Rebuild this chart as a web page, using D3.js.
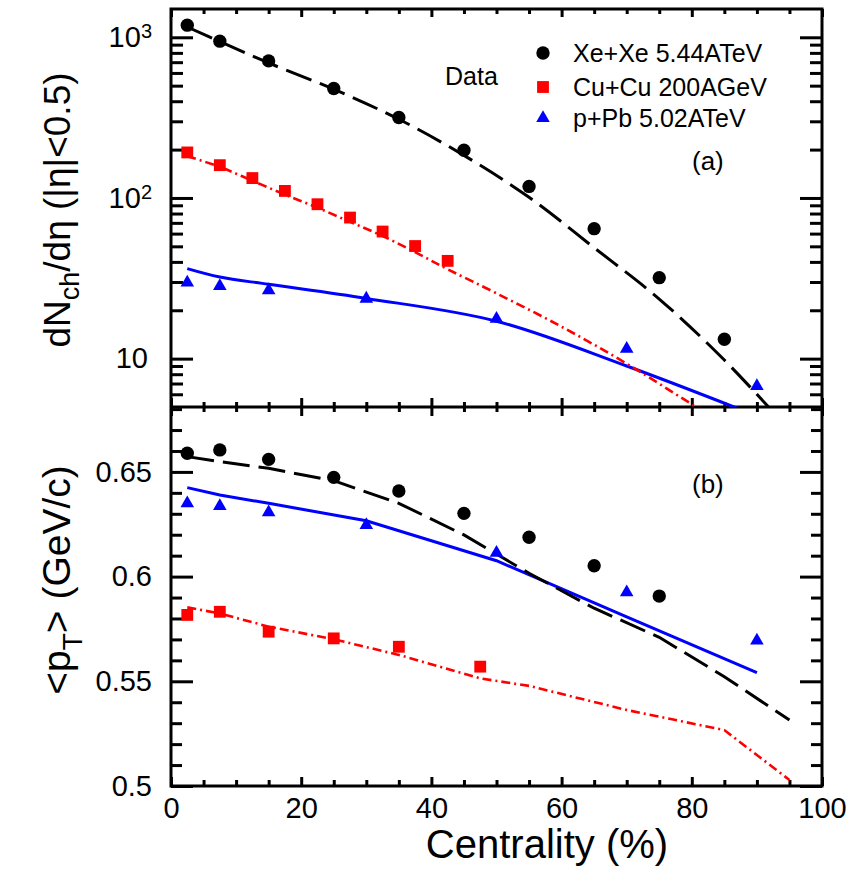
<!DOCTYPE html>
<html>
<head>
    <title>Multiplicity and mean pT vs centrality</title>
    <script src="https://d3js.org/d3.v7.min.js"></script>
    <style>
        body { margin: 0; background: white; }
        svg { display: block; font-family: "Liberation Sans", Arial, sans-serif; }
    </style>
</head>
<body>
    <svg width="859" height="877"></svg>

    <script>
        // ---- data ----
        // panel (a): dNch/deta
        const xeCent = [2.5, 7.5, 15, 25, 35, 45, 55, 65, 75, 85];
        const xeMult = [1190, 946, 713, 480, 317, 198, 118, 64.4, 31.9, 13.2];
        const cuCent = [2.5, 7.5, 12.5, 17.5, 22.5, 27.5, 32.5, 37.5, 42.5];
        const cuMult = [192, 160, 133, 110.6, 91.4, 75.5, 61.8, 50.2, 40.6];
        const pbCent = [2.5, 7.5, 15, 30, 50, 70, 90];
        const pbMult = [29.7, 28.3, 26.6, 23.6, 17.7, 11.5, 6.75];

        // model curves, panel (a)
        const xeModelCent = [2.5, 7.5, 15, 25, 35, 45, 55, 65, 75, 85, 95];
        const xeModelMult = [1159, 940, 692, 475, 309, 184, 101, 49, 23.5, 9.8, 3.6];
        const cuModelCent = [2.5, 7.5, 12.5, 17.5, 22.5, 27.5, 32.5, 37.5, 42.5, 50, 60, 70, 80, 90];
        const cuModelMult = [182, 156, 128, 105, 87, 71, 58, 46, 36, 25.5, 15.8, 9.3, 5.2, 2.9];
        const pbModelCent = [2.5, 7.5, 15, 30, 50, 70, 90];
        const pbModelMult = [36.3, 32.2, 29, 23.7, 17.1, 9, 4.4];

        // panel (b): <pT>
        const xePtCent = [2.5, 7.5, 15, 25, 35, 45, 55, 65, 75];
        const xeMeanPt = [0.6589, 0.6605, 0.656, 0.6474, 0.6409, 0.6302, 0.6188, 0.6052, 0.5907];
        const cuPtCent = [2.5, 7.5, 15, 25, 35, 47.5];
        const cuMeanPt = [0.5817, 0.5832, 0.5737, 0.5705, 0.5665, 0.557];
        const pbMeanPt = [0.635, 0.6337, 0.6307, 0.6246, 0.6114, 0.5925, 0.5694];

        // model curves, panel (b)
        const xeModelPt = [0.6573, 0.6549, 0.6517, 0.6458, 0.635, 0.6199, 0.6016, 0.5849, 0.571, 0.5522, 0.5315];
        const cuModelPtCent = [2.5, 7.5, 15, 25, 35, 47.5, 55, 70, 85, 95];
        const cuModelPt = [0.5853, 0.5824, 0.5761, 0.5701, 0.5626, 0.5514, 0.5478, 0.5363, 0.5267, 0.5029];
        const pbModelPt = [0.6425, 0.639, 0.635, 0.6267, 0.6076, 0.5808, 0.5541];

        // tick values
        const xMajor = [0, 20, 40, 60, 80, 100];
        const xMinor = d3.range(5, 100, 5).filter(v => v % 20 !== 0);
        const multMajor = [10, 100, 1000];
        const multMinor = [6, 7, 8, 9, 20, 30, 40, 50, 60, 70, 80, 90, 200, 300, 400, 500, 600, 700, 800, 900];
        const ptMajor = [0.5, 0.55, 0.6, 0.65];
        const ptMinor = [0.51, 0.52, 0.53, 0.54, 0.56, 0.57, 0.58, 0.59, 0.61, 0.62, 0.63, 0.64, 0.66, 0.67, 0.68];

        const legendLabels = ["Xe+Xe 5.44ATeV", "Cu+Cu 200AGeV", "p+Pb 5.02ATeV"];

        // ---- layout ----
        const svg = d3.select("svg");
        const fx0 = 171, fx1 = 822, fy0 = 9, fyMid = 407, fy1 = 786;

        const x = d3.scaleLinear().domain([0, 100]).range([fx0, fx1]);
        const yA = d3.scaleLog().domain([5, 1500]).range([fyMid, fy0]);
        const yB = d3.scaleLinear().domain([0.5, 0.681]).range([fy1, fyMid]);

        const zip = (xs, ys) => xs.map((c, i) => ({ c: c, v: ys[i] }));

        // clip paths for each panel
        const defs = svg.append("defs");
        defs.append("clipPath").attr("id", "clipA").append("rect")
            .attr("x", fx0).attr("y", fy0).attr("width", fx1 - fx0).attr("height", fyMid - fy0);
        defs.append("clipPath").attr("id", "clipB").append("rect")
            .attr("x", fx0).attr("y", fyMid).attr("width", fx1 - fx0).attr("height", fy1 - fyMid);

        const tickStyle = g => {
            g.select(".domain").remove();
            g.selectAll(".tick line").attr("stroke", "black").attr("stroke-width", 3);
            g.selectAll(".tick text").attr("font-size", 29).attr("fill", "black")
                .attr("font-family", "Liberation Sans, Arial, sans-serif");
        };

        function addAxis(axis, tx, ty) {
            return svg.append("g").attr("transform", `translate(${tx},${ty})`).call(axis).call(tickStyle);
        }

        // x axes (inward ticks)
        addAxis(d3.axisTop(x).tickValues(xMajor).tickSize(-8).tickFormat(""), 0, fy0);
        addAxis(d3.axisTop(x).tickValues(xMinor).tickSize(-5).tickFormat(""), 0, fy0);
        addAxis(d3.axisBottom(x).tickValues(xMajor).tickSize(-9).tickFormat(""), 0, fyMid);
        addAxis(d3.axisBottom(x).tickValues(xMinor).tickSize(-5).tickFormat(""), 0, fyMid);
        addAxis(d3.axisTop(x).tickValues(xMajor).tickSize(-9).tickFormat(""), 0, fyMid);
        addAxis(d3.axisTop(x).tickValues(xMinor).tickSize(-5).tickFormat(""), 0, fyMid);
        addAxis(d3.axisBottom(x).tickValues(xMajor).tickSize(-9).tickPadding(11).tickFormat(d3.format("d")), 0, fy1);
        addAxis(d3.axisBottom(x).tickValues(xMinor).tickSize(-6).tickFormat(""), 0, fy1);

        // panel (a) y axes (log)
        const yAlab = addAxis(d3.axisLeft(yA).tickValues(multMajor).tickSize(-22).tickPadding(19).tickFormat(d => d), fx0, 0);
        yAlab.selectAll(".tick text").each(function (d) {
            const t = d3.select(this).text("");
            t.append("tspan").text("10");
            if (d > 10) {
                t.append("tspan").attr("dy", "-0.45em").attr("font-size", 20).text(Math.round(Math.log10(d)));
            } else {
                t.attr("dx", -4);
            }
        });
        addAxis(d3.axisLeft(yA).tickValues(multMinor).tickSize(-12).tickFormat(""), fx0, 0);
        addAxis(d3.axisRight(yA).tickValues(multMajor).tickSize(-22).tickFormat(""), fx1, 0);
        addAxis(d3.axisRight(yA).tickValues(multMinor).tickSize(-12).tickFormat(""), fx1, 0);

        // panel (b) y axes
        addAxis(d3.axisLeft(yB).tickValues(ptMajor).tickSize(-22).tickPadding(19).tickFormat(d => String(d)), fx0, 0);
        addAxis(d3.axisLeft(yB).tickValues(ptMinor).tickSize(-11).tickFormat(""), fx0, 0);
        addAxis(d3.axisRight(yB).tickValues(ptMajor).tickSize(-22).tickFormat(""), fx1, 0);
        addAxis(d3.axisRight(yB).tickValues(ptMinor).tickSize(-11).tickFormat(""), fx1, 0);

        // frame
        svg.append("rect").attr("x", fx0).attr("y", fy0).attr("width", fx1 - fx0).attr("height", fy1 - fy0)
            .attr("fill", "none").attr("stroke", "black").attr("stroke-width", 3);
        svg.append("line").attr("x1", fx0).attr("x2", fx1).attr("y1", fyMid).attr("y2", fyMid)
            .attr("stroke", "black").attr("stroke-width", 3);

        // ---- model curves ----
        const styles = {
            xe: { color: "black", dash: "27,9", width: 3 },
            cu: { color: "#ff0000", dash: "9,4,2,4", width: 2.6 },
            pb: { color: "#0000ff", dash: null, width: 3 }
        };

        function drawLine(data, yScale, clip, st, curve) {
            const line = d3.line().x(d => x(d.c)).y(d => yScale(d.v)).curve(curve);
            svg.append("path")
                .datum(data)
                .attr("clip-path", `url(#${clip})`)
                .attr("fill", "none")
                .attr("stroke", st.color)
                .attr("stroke-width", st.width)
                .attr("stroke-dasharray", st.dash)
                .attr("d", line);
        }

        // panel (a) curves are smooth, panel (b) curves are straight segments
        drawLine(zip(pbModelCent, pbModelMult), yA, "clipA", styles.pb, d3.curveCatmullRom);
        drawLine(zip(cuModelCent, cuModelMult), yA, "clipA", styles.cu, d3.curveCatmullRom);
        drawLine(zip(xeModelCent, xeModelMult), yA, "clipA", styles.xe, d3.curveCatmullRom);

        drawLine(zip(pbCent, pbModelPt), yB, "clipB", styles.pb, d3.curveLinear);
        drawLine(zip(cuModelPtCent, cuModelPt), yB, "clipB", styles.cu, d3.curveLinear);
        drawLine(zip(xeModelCent, xeModelPt), yB, "clipB", styles.xe, d3.curveLinear);

        // ---- markers ----
        const circle = d3.symbol().type(d3.symbolCircle).size(140);
        const square = d3.symbol().type(d3.symbolSquare).size(140);
        const triangle = d3.symbol().type(d3.symbolTriangle).size(80);

        function drawPoints(data, yScale, sym, color) {
            svg.append("g").selectAll("path")
                .data(data)
                .join("path")
                .attr("transform", d => `translate(${x(d.c)},${yScale(d.v)})`)
                .attr("d", sym)
                .attr("fill", color);
        }

        drawPoints(zip(xeCent, xeMult), yA, circle, "black");
        drawPoints(zip(cuCent, cuMult), yA, square, "#ff0000");
        drawPoints(zip(pbCent, pbMult), yA, triangle, "#0000ff");

        drawPoints(zip(xePtCent, xeMeanPt), yB, circle, "black");
        drawPoints(zip(cuPtCent, cuMeanPt), yB, square, "#ff0000");
        drawPoints(zip(pbCent, pbMeanPt), yB, triangle, "#0000ff");

        // ---- legend ----
        const legendSyms = [circle, square, triangle];
        const legendColors = ["black", "#ff0000", "#0000ff"];
        const legendY = [53, 87, 118];
        legendLabels.forEach((lab, i) => {
            svg.append("path")
                .attr("transform", `translate(543,${legendY[i]})`)
                .attr("d", legendSyms[i])
                .attr("fill", legendColors[i]);
            svg.append("text")
                .attr("x", 573).attr("y", legendY[i] + 9)
                .attr("font-size", 25)
                .text(lab);
        });
        svg.append("text").attr("x", 445).attr("y", 85).attr("font-size", 25).text("Data");
        svg.append("text").attr("x", 692).attr("y", 170).attr("font-size", 26).text("(a)");
        svg.append("text").attr("x", 692).attr("y", 493).attr("font-size", 26).text("(b)");

        // ---- axis titles ----
        svg.append("text")
            .attr("x", 547).attr("y", 858)
            .attr("text-anchor", "middle")
            .attr("font-size", 40)
            .text("Centrality (%)");

        const tA = svg.append("text")
            .attr("transform", "translate(70,210) rotate(-90)")
            .attr("text-anchor", "middle")
            .attr("font-size", 37);
        tA.append("tspan").text("dN");
        tA.append("tspan").attr("font-size", 27).attr("dy", 9).text("ch");
        tA.append("tspan").attr("dy", -9).text("/dη (|η|<0.5)");

        const tB = svg.append("text")
            .attr("transform", "translate(70,580) rotate(-90)")
            .attr("text-anchor", "middle")
            .attr("font-size", 39);
        tB.append("tspan").text("<p");
        tB.append("tspan").attr("font-size", 28).attr("dy", 12).text("T");
        tB.append("tspan").attr("dy", -12).text("> (GeV/c)");
    </script>
</body>
</html>
